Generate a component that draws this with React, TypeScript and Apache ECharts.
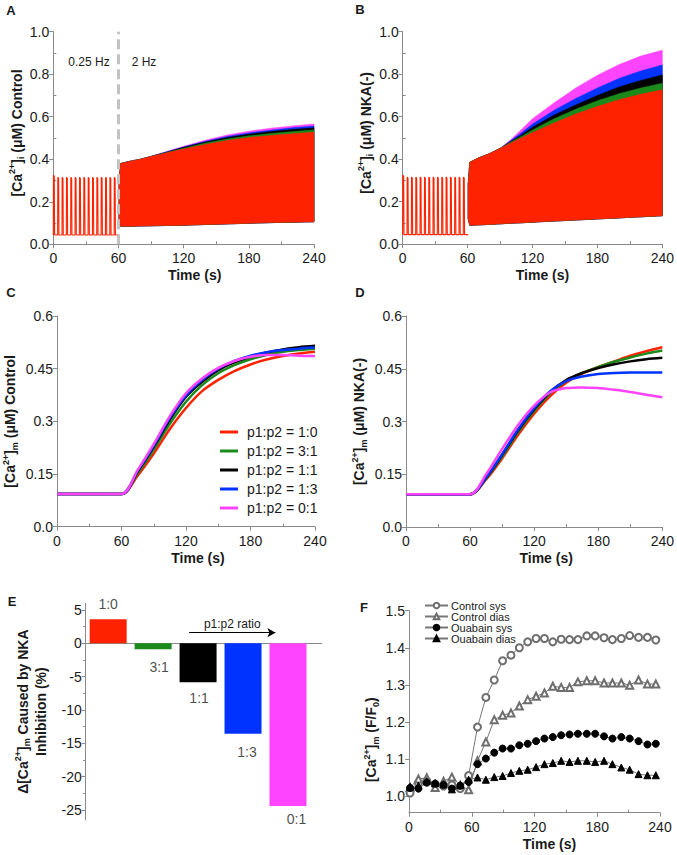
import { useEffect, useRef } from 'react';
import * as echarts from 'echarts';

const FONT = '"Liberation Sans", Arial, Helvetica, sans-serif';
const TEXT = '#1a1a1a';
const AXIS = '#8a8a8a';

// ---------- shared categories ----------
const ratioNames = ['p1:p2 = 1:0', 'p1:p2 = 3:1', 'p1:p2 = 1:1', 'p1:p2 = 1:3', 'p1:p2 = 0:1'];
const ratioColors = ['#ff2200', '#1b8a1b', '#000000', '#0033ff', '#ff44ff'];
const ratioLabels = ['1:0', '3:1', '1:1', '1:3', '0:1'];
const timeMinorTicks = [30, 90, 150, 210];

// ---------- A / B : 0.25 Hz beats then 2 Hz envelope ----------
const slowBeatTimes = [0, 4, 8, 12, 16, 20, 24, 28, 32, 36, 40, 44, 48, 52, 56];
const slowPeaks = [0.325, 0.315, 0.315, 0.315, 0.315, 0.315, 0.315, 0.315, 0.315, 0.315, 0.315, 0.315, 0.315, 0.315, 0.315];
const slowRest = 0.044;

const bandTimes = [60.5, 62, 70, 80, 90, 100, 110, 120, 140, 160, 180, 200, 220, 240];
// panel A (control) upper envelopes per ratio
const upperA10 = [0.30, 0.38, 0.39, 0.40, 0.413, 0.425, 0.437, 0.448, 0.47, 0.488, 0.502, 0.512, 0.52, 0.527];
const upperA31 = [0.30, 0.38, 0.39, 0.40, 0.413, 0.426, 0.439, 0.452, 0.476, 0.495, 0.51, 0.521, 0.53, 0.538];
const upperA11 = [0.30, 0.38, 0.39, 0.40, 0.413, 0.427, 0.441, 0.456, 0.481, 0.502, 0.518, 0.53, 0.54, 0.548];
const upperA13 = [0.30, 0.38, 0.39, 0.40, 0.414, 0.428, 0.443, 0.458, 0.485, 0.507, 0.524, 0.537, 0.548, 0.556];
const upperA01 = [0.30, 0.38, 0.39, 0.40, 0.414, 0.43, 0.446, 0.461, 0.49, 0.514, 0.532, 0.546, 0.557, 0.566];
const lowerA = [0.12, 0.085, 0.085, 0.086, 0.087, 0.088, 0.089, 0.09, 0.093, 0.096, 0.099, 0.102, 0.104, 0.106];
// panel B (NKA-) upper envelopes per ratio
const upperB10 = [0.28, 0.385, 0.405, 0.425, 0.45, 0.476, 0.5, 0.525, 0.57, 0.612, 0.648, 0.68, 0.705, 0.726];
const upperB31 = [0.28, 0.385, 0.405, 0.425, 0.45, 0.48, 0.508, 0.537, 0.59, 0.635, 0.675, 0.708, 0.735, 0.757];
const upperB11 = [0.28, 0.385, 0.405, 0.425, 0.45, 0.483, 0.515, 0.55, 0.608, 0.655, 0.7, 0.74, 0.77, 0.796];
const upperB13 = [0.28, 0.385, 0.405, 0.425, 0.45, 0.487, 0.525, 0.565, 0.63, 0.685, 0.735, 0.78, 0.815, 0.843];
const upperB01 = [0.28, 0.385, 0.405, 0.425, 0.45, 0.492, 0.54, 0.59, 0.665, 0.735, 0.795, 0.845, 0.885, 0.913];
const lowerB = [0.12, 0.088, 0.09, 0.092, 0.095, 0.098, 0.1, 0.103, 0.108, 0.113, 0.118, 0.123, 0.128, 0.133];

// ---------- C / D : mitochondrial Ca ----------
const mTimes = [0, 60, 75, 90, 105, 120, 135, 150, 165, 180, 195, 210, 225, 240];
const caC10 = [0.093, 0.093, 0.145, 0.208, 0.278, 0.338, 0.386, 0.418, 0.443, 0.462, 0.476, 0.486, 0.493, 0.498];
const caC31 = [0.093, 0.093, 0.152, 0.22, 0.293, 0.356, 0.403, 0.437, 0.46, 0.477, 0.489, 0.498, 0.503, 0.507];
const caC11 = [0.093, 0.093, 0.157, 0.228, 0.305, 0.37, 0.413, 0.446, 0.468, 0.484, 0.496, 0.505, 0.511, 0.515];
const caC13 = [0.093, 0.093, 0.159, 0.231, 0.31, 0.374, 0.418, 0.45, 0.472, 0.487, 0.497, 0.503, 0.507, 0.51];
const caC01 = [0.093, 0.093, 0.161, 0.235, 0.315, 0.38, 0.422, 0.452, 0.472, 0.484, 0.489, 0.489, 0.487, 0.486];

const caD10 = [0.093, 0.093, 0.135, 0.195, 0.262, 0.322, 0.372, 0.41, 0.436, 0.455, 0.471, 0.487, 0.5, 0.511];
const caD31 = [0.093, 0.093, 0.138, 0.2, 0.27, 0.33, 0.38, 0.415, 0.438, 0.455, 0.47, 0.482, 0.493, 0.502];
const caD11 = [0.093, 0.093, 0.14, 0.205, 0.275, 0.335, 0.384, 0.418, 0.438, 0.452, 0.463, 0.471, 0.477, 0.481];
const caD13 = [0.093, 0.093, 0.141, 0.207, 0.278, 0.338, 0.386, 0.415, 0.428, 0.435, 0.438, 0.439, 0.439, 0.439];
const caD01 = [0.093, 0.093, 0.15, 0.222, 0.29, 0.345, 0.383, 0.395, 0.397, 0.395, 0.39, 0.384, 0.376, 0.369];

// ---------- E : change caused by NKA inhibition (%) ----------
const deltaValues = [3.6, -0.9, -5.85, -13.55, -24.4];
const arrowSpan = [2.8, 4.72];
const arrowLevel = 1.6;

// ---------- F : experimental F/F0 ----------
const fTimes = [1, 9, 17, 25, 33, 41, 49, 57, 65.5, 73.5, 81.5, 89.5, 97.5, 105.5, 113.5, 121.5, 129.5, 137.5, 145.5, 153.5, 161.5, 170, 178, 186.5, 194.5, 203, 211, 219.5, 228, 236];
const controlSys = [1.008, 1.035, 1.04, 1.032, 1.027, 1.03, 1.02, 1.055, 1.186, 1.266, 1.313, 1.365, 1.38, 1.4, 1.416, 1.425, 1.425, 1.416, 1.423, 1.422, 1.422, 1.432, 1.432, 1.427, 1.422, 1.425, 1.433, 1.428, 1.428, 1.421];
const controlDias = [1.023, 1.046, 1.049, 1.023, 1.04, 1.051, 1.029, 1.017, 1.095, 1.146, 1.206, 1.218, 1.224, 1.243, 1.26, 1.269, 1.278, 1.296, 1.293, 1.293, 1.308, 1.311, 1.311, 1.305, 1.305, 1.305, 1.299, 1.313, 1.302, 1.302];
const ouabainSys = [1.022, 1.02, 1.036, 1.033, 1.03, 1.02, 1.028, 1.038, 1.086, 1.101, 1.117, 1.128, 1.128, 1.137, 1.141, 1.148, 1.155, 1.159, 1.164, 1.166, 1.168, 1.168, 1.168, 1.161, 1.155, 1.159, 1.155, 1.148, 1.139, 1.141];
const ouabainDias = [1.025, 1.028, 1.04, 1.035, 1.032, 1.018, 1.03, 1.044, 1.05, 1.044, 1.051, 1.054, 1.062, 1.068, 1.071, 1.078, 1.086, 1.089, 1.095, 1.092, 1.095, 1.095, 1.092, 1.095, 1.086, 1.077, 1.071, 1.059, 1.056, 1.056];
const fNames = ['Control sys', 'Control dias', 'Ouabain sys', 'Ouabain dias'];

// ---------- styling (not data) ----------
const barLabelPos = ['top', 'bottom', 'bottom', 'bottom', 'bottom'];
const barLabelDx = [0, 6, 1, 4, 8.5];
const barLabelDist = [8, 10, 8, 11, 6];

const nameRich = {
  b: { fontSize: 14, fontWeight: 'bold', color: TEXT, lineHeight: 18, fontFamily: FONT },
  sup: { fontSize: 9, fontWeight: 'bold', color: TEXT, lineHeight: 10, verticalAlign: 'top', fontFamily: FONT },
  sub: { fontSize: 9, fontWeight: 'bold', color: TEXT, lineHeight: 10, verticalAlign: 'bottom', fontFamily: FONT },
};

function timeAxes(gridIndex: number, shift: number) {
  return [
    {
      type: 'value', gridIndex, min: 0, max: 240, interval: 60, position: 'bottom',
      axisLine: { show: true, onZero: false, lineStyle: { color: AXIS } },
      axisTick: { show: true, length: 4, lineStyle: { color: AXIS } },
      axisLabel: { fontSize: 14, color: TEXT, margin: 7, fontFamily: FONT },
      splitLine: { show: false },
      name: 'Time (s)', nameLocation: 'middle', nameGap: 24,
      nameTextStyle: { fontSize: 14, fontWeight: 'bold', color: TEXT, fontFamily: FONT, padding: [0, 0, 0, shift * 2] },
    },
    {
      type: 'value', gridIndex, min: 0, max: 240, position: 'bottom',
      axisLine: { show: false }, axisLabel: { show: false }, splitLine: { show: false },
      axisTick: { show: true, inside: true, length: 3, customValues: timeMinorTicks, lineStyle: { color: AXIS } },
    },
  ];
}

function yAxes(gridIndex: number, min: number, max: number, major: number[], minor: number[], minorInside: boolean,
  fmt: (v: number) => string, name: string, nameGap: number, namePad: number[]) {
  return [
    {
      type: 'value', gridIndex, min, max, position: 'left',
      axisLine: { show: true, onZero: false, lineStyle: { color: AXIS } },
      axisTick: { show: true, length: 4, customValues: major, lineStyle: { color: AXIS } },
      axisLabel: { fontSize: 14, color: TEXT, margin: 4, customValues: major, formatter: fmt, fontFamily: FONT },
      splitLine: { show: false },
      name, nameLocation: 'middle', nameRotate: 90, nameGap,
      nameTextStyle: { fontSize: 14, fontWeight: 'bold', color: TEXT, rich: nameRich, padding: namePad },
    },
    {
      type: 'value', gridIndex, min, max, position: 'left',
      axisLine: { show: false }, axisLabel: { show: false }, splitLine: { show: false },
      axisTick: { show: minor.length > 0, inside: minorInside, length: minorInside ? 3 : 2.5, customValues: minor, lineStyle: { color: AXIS } },
    },
  ];
}

function bandSeries(name: string, xi: number, yi: number, upper: number[], lower: number[], color: string) {
  return {
    type: 'custom', name, xAxisIndex: xi, yAxisIndex: yi, silent: true, z: 2,
    data: bandTimes.map((t, i) => [t, upper[i]]),
    encode: { x: 0, y: 1 },
    renderItem: (params: any, api: any) => {
      if (params.dataIndex !== 0) return null;
      const pts: number[][] = [];
      for (let i = 0; i < bandTimes.length; i++) pts.push(api.coord([bandTimes[i], upper[i]]));
      for (let i = bandTimes.length - 1; i >= 0; i--) pts.push(api.coord([bandTimes[i], lower[i]]));
      return { type: 'polygon', shape: { points: pts }, style: { fill: color, stroke: color, lineWidth: 0.5 } };
    },
  };
}

function spikeData() {
  const pts: number[][] = [];
  slowBeatTimes.forEach((t, i) => {
    pts.push([t, slowRest], [t + 0.15, slowPeaks[i]], [t + 0.9, slowPeaks[i] - 0.005], [t + 1.2, slowRest]);
  });
  pts.push([60.5, slowRest]);
  return pts;
}

function lineSeries(name: string, xi: number, yi: number, vals: number[], color: string) {
  return {
    type: 'line', name, xAxisIndex: xi, yAxisIndex: yi, symbol: 'none', smooth: 0.3,
    data: mTimes.map((t, i) => [t, vals[i]]),
    lineStyle: { color, width: 2.5 }, itemStyle: { color }, z: 3,
  };
}

function fSeries(name: string, vals: number[], symbol: string, color: string) {
  return {
    type: 'line', name, xAxisIndex: 9, yAxisIndex: 10, symbol, symbolSize: 7,
    data: fTimes.map((t, i) => [t, vals[i]]),
    lineStyle: { color: '#777', width: 1 },
    itemStyle: { color, borderColor: color, borderWidth: 1 },
    z: 3,
  };
}

const fmt1 = (v: number) => v.toFixed(1);
const fmtC = (v: number) => (v === 0 ? '0.0' : String(v));

function buildOption() {
  const xAxis = [
    ...timeAxes(0, 11), ...timeAxes(1, 10), ...timeAxes(2, 12), ...timeAxes(3, 12),
    {
      type: 'value', gridIndex: 4, min: 0.5, max: 5.75, position: 'bottom',
      axisLine: { show: true, onZero: true, onZeroAxisIndex: 8, lineStyle: { color: AXIS } },
      axisTick: { show: false }, axisLabel: { show: false }, splitLine: { show: false },
    },
    ...timeAxes(5, 15),
  ];
  const yAxis = [
    ...yAxes(0, 0, 1, [0, 0.2, 0.4, 0.6, 0.8, 1.0], [0.1, 0.3, 0.5, 0.7, 0.9], true, fmt1,
      '{b|[Ca}{sup|2+}{b|]}{sub|i}{b| (μM) Control}', 27, [0, 0, 0, 10]),
    ...yAxes(1, 0, 1, [0, 0.2, 0.4, 0.6, 0.8, 1.0], [0.1, 0.3, 0.5, 0.7, 0.9], true, fmt1,
      '{b|[Ca}{sup|2+}{b|]}{sub|i}{b| (μM) NKA(-)}', 28, [0, 0, 0, 10]),
    ...yAxes(2, 0, 0.6, [0, 0.15, 0.3, 0.45, 0.6], [], true, fmtC,
      '{b|[Ca}{sup|2+}{b|]}{sub|m}{b| (μM) Control}', 38, [0, 0, 0, 0]),
    ...yAxes(3, 0, 0.6, [0, 0.15, 0.3, 0.45, 0.6], [], true, fmtC,
      '{b|[Ca}{sup|2+}{b|]}{sub|m}{b| (μM) NKA(-)}', 38, [0, 0, 0, 0]),
    ...yAxes(4, -26.5, 6, [5, 0, -5, -10, -15, -20, -25], [2.5, -2.5, -7.5, -12.5, -17.5, -22.5], false, (v: number) => String(v),
      '{b|Δ[Ca}{sup|2+}{b|]}{sub|m}{b| Caused by NKA}\n{b|Inhibition (%)}', 36, [0, 0, 0, 0]),
    ...yAxes(5, 0.955, 1.5, [1.0, 1.1, 1.2, 1.3, 1.4, 1.5], [], true, fmt1,
      '{b|[Ca}{sup|2+}{b|]}{sub|m}{b| (F/F}{sub|0}{b|)}', 29, [0, 56, 0, 0]),
  ];

  const order = [4, 3, 2, 1, 0]; // magenta at the bottom, red on top
  const upA = [upperA10, upperA31, upperA11, upperA13, upperA01];
  const upB = [upperB10, upperB31, upperB11, upperB13, upperB01];
  const cVals = [caC10, caC31, caC11, caC13, caC01];
  const dVals = [caD10, caD31, caD11, caD13, caD01];

  const series: any[] = [];
  [0, 1, 2, 3, 4].forEach((i) => series.push(lineSeries(ratioNames[i], 4, 4, cVals[i], ratioColors[i])));
  [0, 1, 2, 3, 4].forEach((i) => series.push(lineSeries(ratioNames[i], 6, 6, dVals[i], ratioColors[i])));
  order.forEach((i) => series.push(bandSeries('A band ' + ratioLabels[i], 0, 0, upA[i], lowerA, ratioColors[i])));
  order.forEach((i) => series.push(bandSeries('B band ' + ratioLabels[i], 2, 2, upB[i], lowerB, ratioColors[i])));
  series.push({
    type: 'line', name: 'A slow', xAxisIndex: 0, yAxisIndex: 0, symbol: 'none', z: 4,
    data: spikeData(), lineStyle: { color: ratioColors[0], width: 1.1 },
    markLine: {
      silent: true, symbol: ['none', 'none'], label: { show: false },
      lineStyle: { color: '#c2c2c2', width: 3, type: [10, 5] },
      data: [{ xAxis: 60 }],
    },
  });
  series.push({
    type: 'line', name: 'B slow', xAxisIndex: 2, yAxisIndex: 2, symbol: 'none', z: 4,
    data: spikeData(), lineStyle: { color: ratioColors[0], width: 1.1 },
  });
  series.push({
    type: 'bar', name: 'E bars', xAxisIndex: 8, yAxisIndex: 8, barWidth: 37,
    data: deltaValues.map((v, i) => ({ value: [i + 1, v], itemStyle: { color: ratioColors[i] } })),
    markLine: {
      silent: true, symbol: ['none', 'arrow'], symbolSize: [7, 8],
      lineStyle: { color: '#000', width: 1, type: 'solid' },
      label: { show: true, position: 'middle', formatter: 'p1:p2 ratio', fontSize: 12, color: TEXT, distance: 3, fontFamily: FONT },
      data: [[{ coord: [arrowSpan[0], arrowLevel] }, { coord: [arrowSpan[1], arrowLevel] }]],
    },
  });
  series.push({
    type: 'scatter', name: 'E labels', xAxisIndex: 8, yAxisIndex: 8, symbolSize: 1, silent: true,
    itemStyle: { color: 'rgba(0,0,0,0)' },
    data: deltaValues.map((v, i) => ({
      value: [i + 1, v],
      label: {
        show: true, formatter: ratioLabels[i], position: barLabelPos[i], distance: barLabelDist[i],
        offset: [barLabelDx[i], 0], fontSize: 14, color: TEXT, fontFamily: FONT,
      },
    })),
  });
  series.push(fSeries('Control sys', controlSys, 'emptyCircle', '#6e6e6e'));
  series.push(fSeries('Control dias', controlDias, 'emptyTriangle', '#6e6e6e'));
  series.push(fSeries('Ouabain sys', ouabainSys, 'circle', '#000'));
  series.push(fSeries('Ouabain dias', ouabainDias, 'triangle', '#000'));

  const letter = (t: string, x: number, y: number) => ({
    type: 'text', x, y,
    style: { text: t, fontSize: 13, fontWeight: 'bold', fontFamily: FONT, fill: TEXT, align: 'center', verticalAlign: 'middle', textAlign: 'center', textVerticalAlign: 'middle' },
  });
  const note = (t: string, x: number, y: number) => ({
    type: 'text', x, y,
    style: { text: t, fontSize: 12, fontFamily: FONT, fill: TEXT, align: 'center', verticalAlign: 'middle', textAlign: 'center', textVerticalAlign: 'middle' },
  });

  return {
    animation: false,
    textStyle: { fontFamily: FONT },
    grid: [
      { left: 53.3, top: 31.7, width: 260.7, height: 212.6, containLabel: false },
      { left: 402.7, top: 31.7, width: 260.3, height: 212.3, containLabel: false },
      { left: 54, top: 316, width: 261, height: 210.7, containLabel: false },
      { left: 406, top: 316, width: 260, height: 211, containLabel: false },
      { left: 85.7, top: 603.3, width: 236, height: 216.7, containLabel: false },
      { left: 409, top: 610.7, width: 251, height: 202, containLabel: false },
    ],
    xAxis, yAxis, series,
    legend: [
      {
        data: ratioNames, orient: 'vertical', left: 215, top: 419, itemWidth: 18, itemHeight: 3, itemGap: 3,
        icon: 'rect',
        textStyle: { fontSize: 14, color: TEXT, lineHeight: 16, fontFamily: FONT, padding: [0, 0, 0, 4] },
        selectedMode: false,
      },
      {
        data: fNames, orient: 'vertical', left: 419, top: 595, itemWidth: 23, itemHeight: 7, itemGap: 0,
        textStyle: { fontSize: 11, color: TEXT, lineHeight: 11, fontFamily: FONT, padding: [0, 0, 0, -2] },
        selectedMode: false,
      },
    ],
    graphic: [
      letter('A', 11, 10), letter('B', 360, 9), letter('C', 11, 292), letter('D', 360, 292),
      letter('E', 12, 601), letter('F', 364, 607),
      note('0.25 Hz', 89, 62), note('2 Hz', 144, 62),
    ],
  };
}

export default function App() {
  const ref = useRef<HTMLDivElement>(null);
  useEffect(() => {
    if (!ref.current) return;
    const chart = echarts.init(ref.current, undefined, { renderer: 'svg' });
    chart.setOption(buildOption() as any);
    return () => chart.dispose();
  }, []);
  return <div ref={ref} style={{ position: 'fixed', left: 0, top: 0, width: 677, height: 855, background: '#fff' }} />;
}
